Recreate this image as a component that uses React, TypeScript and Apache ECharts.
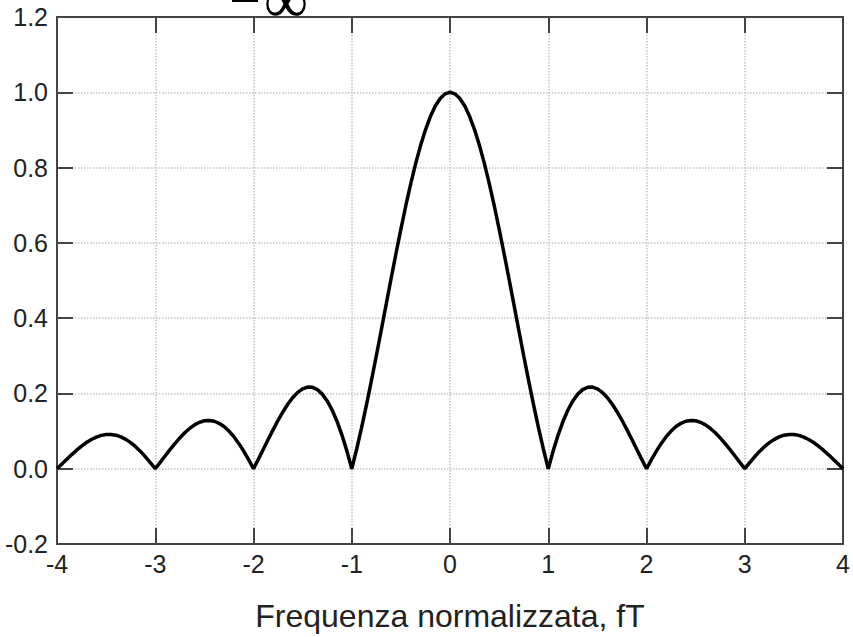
import React, { useEffect, useRef } from "react";
import * as echarts from "echarts";

const xValues = [
  -4.0, -3.95, -3.9, -3.85, -3.8, -3.75, -3.7, -3.65, -3.6, -3.55,
  -3.5, -3.45, -3.4, -3.35, -3.3, -3.25, -3.2, -3.15, -3.1, -3.05,
  -3.0, -2.95, -2.9, -2.85, -2.8, -2.75, -2.7, -2.65, -2.6, -2.55,
  -2.5, -2.45, -2.4, -2.35, -2.3, -2.25, -2.2, -2.15, -2.1, -2.05,
  -2.0, -1.95, -1.9, -1.85, -1.8, -1.75, -1.7, -1.65, -1.6, -1.55,
  -1.5, -1.45, -1.4, -1.35, -1.3, -1.25, -1.2, -1.15, -1.1, -1.05,
  -1.0, -0.95, -0.9, -0.85, -0.8, -0.75, -0.7, -0.65, -0.6, -0.55,
  -0.5, -0.45, -0.4, -0.35, -0.3, -0.25, -0.2, -0.15, -0.1, -0.05,
  0.0, 0.05, 0.1, 0.15, 0.2, 0.25, 0.3, 0.35, 0.4, 0.45,
  0.5, 0.55, 0.6, 0.65, 0.7, 0.75, 0.8, 0.85, 0.9, 0.95,
  1.0, 1.05, 1.1, 1.15, 1.2, 1.25, 1.3, 1.35, 1.4, 1.45,
  1.5, 1.55, 1.6, 1.65, 1.7, 1.75, 1.8, 1.85, 1.9, 1.95,
  2.0, 2.05, 2.1, 2.15, 2.2, 2.25, 2.3, 2.35, 2.4, 2.45,
  2.5, 2.55, 2.6, 2.65, 2.7, 2.75, 2.8, 2.85, 2.9, 2.95,
  3.0, 3.05, 3.1, 3.15, 3.2, 3.25, 3.3, 3.35, 3.4, 3.45,
  3.5, 3.55, 3.6, 3.65, 3.7, 3.75, 3.8, 3.85, 3.9, 3.95,
  4.0,
];

const yValues = [
  0.0, 0.0126, 0.0252, 0.0375, 0.0492, 0.06, 0.0696, 0.0777, 0.0841, 0.0886,
  0.0909, 0.0911, 0.089, 0.0847, 0.078, 0.0693, 0.0585, 0.0459, 0.0317, 0.0163,
  0.0, 0.0169, 0.0339, 0.0507, 0.0668, 0.0818, 0.0954, 0.107, 0.1164, 0.1233,
  0.1273, 0.1283, 0.1261, 0.1207, 0.112, 0.1, 0.085, 0.0672, 0.0468, 0.0243,
  0.0, 0.0255, 0.0518, 0.0781, 0.1039, 0.1286, 0.1515, 0.1719, 0.1892, 0.2028,
  0.2122, 0.2168, 0.2162, 0.2101, 0.1981, 0.1801, 0.1559, 0.1257, 0.0894, 0.0474,
  0.0, 0.0524, 0.1093, 0.17, 0.2339, 0.3001, 0.3679, 0.4364, 0.5046, 0.5717,
  0.6366, 0.6986, 0.7568, 0.8105, 0.8584, 0.9003, 0.9355, 0.9634, 0.9836, 0.9959,
  1.0, 0.9959, 0.9836, 0.9634, 0.9355, 0.9003, 0.8584, 0.8105, 0.7568, 0.6986,
  0.6366, 0.5717, 0.5046, 0.4364, 0.3679, 0.3001, 0.2339, 0.17, 0.1093, 0.0524,
  0.0, 0.0474, 0.0894, 0.1257, 0.1559, 0.1801, 0.1981, 0.2101, 0.2162, 0.2168,
  0.2122, 0.2028, 0.1892, 0.1719, 0.1515, 0.1286, 0.1039, 0.0781, 0.0518, 0.0255,
  0.0, 0.0243, 0.0468, 0.0672, 0.085, 0.1, 0.112, 0.1207, 0.1261, 0.1283,
  0.1273, 0.1233, 0.1164, 0.107, 0.0954, 0.0818, 0.0668, 0.0507, 0.0339, 0.0169,
  0.0, 0.0163, 0.0317, 0.0459, 0.0585, 0.0693, 0.078, 0.0847, 0.089, 0.0911,
  0.0909, 0.0886, 0.0841, 0.0777, 0.0696, 0.06, 0.0492, 0.0375, 0.0252, 0.0126,
  0.0,
];

const xTitle = "Frequenza normalizzata, fT";

export default function App() {
  const ref = useRef<HTMLDivElement>(null);
  useEffect(() => {
    if (!ref.current) return;
    const chart = echarts.init(ref.current, null, { renderer: "svg" });
    const axisColor = "#444";
    const gridColor = "#c4c4c4";
    const font = "Liberation Sans, Arial, sans-serif";
    const common = {
      type: "value" as const,
      axisLine: { show: true, onZero: false, lineStyle: { color: axisColor, width: 2 } },
      axisTick: { show: true, inside: true, length: 16, lineStyle: { color: axisColor, width: 2 } },
    };
    chart.setOption({
      animation: false,
      backgroundColor: "#fff",
      grid: { left: 57, right: 5, top: 17, bottom: 90, containLabel: false },
      xAxis: [
        {
          ...common,
          position: "bottom",
          min: -4,
          max: 4,
          interval: 1,
          axisLabel: { color: "#222", fontSize: 25, fontFamily: font, margin: 7 },
          splitLine: { show: true, lineStyle: { color: gridColor, type: "dotted", width: 1.5 } },
          name: xTitle,
          nameLocation: "middle",
          nameGap: 56,
          nameTextStyle: { color: "#222", fontSize: 32, fontFamily: font },
        },
        {
          ...common,
          position: "top",
          min: -4,
          max: 4,
          interval: 1,
          axisLabel: { show: false },
          splitLine: { show: false },
        },
      ],
      yAxis: [
        {
          ...common,
          position: "left",
          min: -0.2,
          max: 1.2,
          interval: 0.2,
          axisLabel: {
            color: "#222",
            fontSize: 25,
            fontFamily: font,
            margin: 9,
            formatter: (v: number) => v.toFixed(1),
          },
          splitLine: { show: true, lineStyle: { color: gridColor, type: "dotted", width: 1.5 } },
        },
        {
          ...common,
          position: "right",
          min: -0.2,
          max: 1.2,
          interval: 0.2,
          axisLabel: { show: false },
          splitLine: { show: false },
        },
      ],
      graphic: [
        { type: "rect", shape: { x: 232, y: 0, width: 26, height: 2 }, style: { fill: "#000" } },
        {
          type: "text",
          x: 264,
          y: -30,
          style: { text: "∞", fontSize: 62, fontFamily: "Liberation Serif, serif", fill: "#000" },
        },
      ],
      series: [
        {
          type: "line",
          xAxisIndex: 0,
          yAxisIndex: 0,
          data: xValues.map((x, i) => [x, yValues[i]]),
          showSymbol: false,
          symbol: "none",
          lineStyle: { color: "#000", width: 3.5 },
          smooth: false,
          z: 5,
        },
      ],
    });
    return () => chart.dispose();
  }, []);
  return (
    <div
      ref={ref}
      style={{ position: "fixed", left: 0, top: 0, width: 853, height: 637 }}
    />
  );
}
